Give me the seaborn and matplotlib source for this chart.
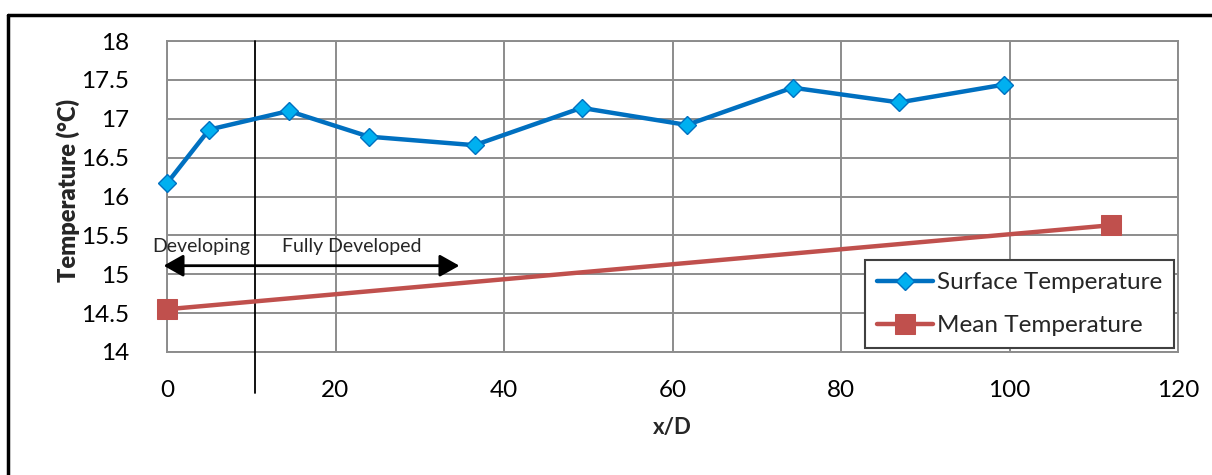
import matplotlib
matplotlib.use("Agg")
import matplotlib.pyplot as plt
import seaborn as sns
import pandas as pd
from matplotlib.lines import Line2D

# Surface temperature along the pipe
surface_xd = [0, 5.0, 14.45, 23.95, 36.5, 49.2, 61.7, 74.25, 86.9, 99.4]
surface_temp = [16.17, 16.86, 17.10, 16.77, 16.66, 17.14, 16.92, 17.40, 17.21, 17.44]

# Bulk (mean) temperature at inlet and outlet
mean_xd = [0, 112.0]
mean_temp = [14.55, 15.63]

x_ticks = [0, 20, 40, 60, 80, 100, 120]
y_ticks = [14, 14.5, 15, 15.5, 16, 16.5, 17, 17.5, 18]
y_tick_labels = ["14", "14.5", "15", "15.5", "16", "16.5", "17", "17.5", "18"]

# Boundary between the developing and fully developed regions
entry_length = 10.4

sns.set_theme(style="white")
plt.rcParams["font.family"] = ["Lato", "DejaVu Sans"]

fig = plt.figure(figsize=(12.12, 4.75), dpi=100)
ax = fig.add_axes([167 / 1212, 1 - 352 / 475, (1178 - 167) / 1212, (352 - 41) / 475])

surface = pd.DataFrame({"xd": surface_xd, "temp": surface_temp})
mean = pd.DataFrame({"xd": mean_xd, "temp": mean_temp})

sns.lineplot(data=surface, x="xd", y="temp", ax=ax, sort=False,
             color="#0070C0", linewidth=3.2, marker="D", markersize=9.5,
             markerfacecolor="#00B0F0", markeredgecolor="#0070C0",
             markeredgewidth=1.0, label="Surface Temperature", zorder=4,
             clip_on=False)
sns.lineplot(data=mean, x="xd", y="temp", ax=ax, sort=False,
             color="#C0504D", linewidth=3.2, marker="s", markersize=14,
             markerfacecolor="#C0504D", markeredgecolor="#C0504D",
             label="Mean Temperature", zorder=4, clip_on=False)

ax.set_xlim(0, 120)
ax.set_ylim(14, 18)
ax.set_xticks(x_ticks)
ax.set_yticks(y_ticks)
ax.set_yticklabels(y_tick_labels)
ax.grid(True, color="#8C8C8C", linewidth=1.4)
ax.set_axisbelow(True)
for s in ax.spines.values():
    s.set_color("#8C8C8C")
    s.set_linewidth(1.4)
ax.tick_params(axis="both", length=0, labelsize=17.5, colors="black")
ax.tick_params(axis="x", pad=20)
ax.tick_params(axis="y", pad=27)

ax.set_xlabel("x/D", fontsize=16, fontweight="bold", labelpad=12)
ax.set_ylabel("Temperature (°C)", fontsize=17, fontweight="heavy")
ax.yaxis.set_label_coords(-0.086, 0.52)

# Region divider and labels
ax.plot([entry_length, entry_length], [18, 13.47], color="black",
        linewidth=1.3, clip_on=False, zorder=3)
ax.annotate("", xy=(-0.4, 15.11), xytext=(34.7, 15.11),
            arrowprops=dict(arrowstyle="<|-|>,head_length=0.8,head_width=0.45",
                            mutation_scale=15, color="black", lw=2,
                            shrinkA=0, shrinkB=0),
            annotation_clip=False, zorder=5)
ax.text(4.1, 15.36, "Developing", fontsize=14, ha="center", va="center")
ax.text(21.9, 15.36, "Fully Developed", fontsize=14, ha="center", va="center")

leg = ax.legend(loc="lower right", fontsize=17.5, frameon=True, fancybox=False,
                borderaxespad=0.15, handlelength=2.3, handletextpad=0.15,
                labelspacing=0.9, borderpad=0.5)
leg.get_frame().set_edgecolor("#404040")
leg.get_frame().set_linewidth(1.5)
leg.get_frame().set_alpha(1)

# Outer frame around the chart
fig.add_artist(Line2D([8.3 / 1212, 8.3 / 1212], [0, 1 - 15 / 475],
                      color="black", linewidth=2.5, transform=fig.transFigure))
fig.add_artist(Line2D([8.3 / 1212, 1], [1 - 15 / 475, 1 - 15 / 475],
                      color="black", linewidth=2.5, transform=fig.transFigure))

fig.savefig("out.png", dpi=100)
